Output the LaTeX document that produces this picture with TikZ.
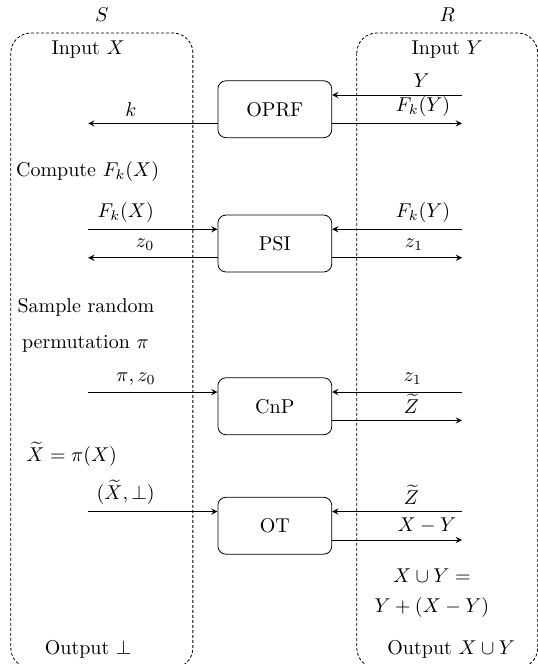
\documentclass[tikz,border=0pt]{standalone}
\usepackage{amsmath,amssymb}
\usetikzlibrary{arrows}

\begin{document}
\begin{tikzpicture}[>=stealth,
  proto/.style={draw,rounded corners,minimum width=2cm,minimum height=1cm},
  party/.style={draw,dash pattern=on 1.5pt off 1pt,rounded corners=10pt}]
  \useasboundingbox (0,0) rectangle (9.44,-11.67);

  %parties
  \draw[party] (0.19,-0.58) rectangle (3.39,-11.74);
  \draw[party] (6.27,-0.58) rectangle (9.45,-11.74);
  \node (s) at (1.79,-0.26) {$S$};
  \node (r) at (7.86,-0.26) {$R$};
  \node (inx) at (1.55,-0.88) {Input $X$};
  \node (iny) at (7.86,-0.88) {Input $Y$};

  %protocols
  \node[proto] (oprf) at (4.83,-1.92) {OPRF};
  \node[proto] (psi) at (4.83,-4.28) {PSI};
  \node[proto] (cnp) at (4.83,-7.14) {CnP};
  \node[proto] (ot) at (4.83,-9.24) {OT};

  %free ends
  \coordinate (oprf-k) at (1.55,-2.17);
  \coordinate (oprf-y) at (8.12,-1.67);
  \coordinate (oprf-fy) at (8.12,-2.17);
  \coordinate (psi-fx) at (1.55,-4.03);
  \coordinate (psi-z0) at (1.55,-4.53);
  \coordinate (psi-fy) at (8.12,-4.03);
  \coordinate (psi-z1) at (8.12,-4.53);
  \coordinate (cnp-pi) at (1.55,-6.89);
  \coordinate (cnp-z1) at (8.12,-6.89);
  \coordinate (cnp-z) at (8.12,-7.39);
  \coordinate (ot-x) at (1.55,-8.99);
  \coordinate (ot-z) at (8.12,-8.99);
  \coordinate (ot-xy) at (8.12,-9.49);

  %OPRF
  \draw[->] (oprf.west |- oprf-k) -- node[above,pos=0.67]{$k$} (oprf-k);
  \draw[<-] (oprf.east |- oprf-y) -- node[above,pos=0.69]{$Y$} (oprf-y);
  \draw[->] (oprf.east |- oprf-fy) -- node[above,pos=0.7]{$F_k(Y)$} (oprf-fy);
  \node (comp) at (1.54,-3.02) {Compute $F_k(X)$};

  %PSI
  \draw[<-] (psi.west |- psi-fx) -- node[above,pos=0.71]{$F_k(X)$} (psi-fx);
  \draw[->] (psi.west |- psi-z0) -- node[above,pos=0.56]{$z_0$} (psi-z0);
  \draw[<-] (psi.east |- psi-fy) -- node[above,pos=0.7]{$F_k(Y)$} (psi-fy);
  \draw[->] (psi.east |- psi-z1) -- node[above,pos=0.63]{$z_1$} (psi-z1);
  \node (samp) at (1.51,-5.40) {Sample random};
  \node (perm) at (1.50,-6.05) {permutation $\pi$};

  %CnP
  \draw[<-] (cnp.west |- cnp-pi) -- node[above,pos=0.63]{$\pi, z_0$} (cnp-pi);
  \draw[<-] (cnp.east |- cnp-z1) -- node[above,pos=0.62]{$z_1$} (cnp-z1);
  \draw[->] (cnp.east |- cnp-z) -- node[above,pos=0.61]{$\widetilde{Z}$} (cnp-z);
  \node (xt) at (1.26,-7.98) {$\widetilde{X} = \pi(X)$};

  %OT
  \draw[<-] (ot.west |- ot-x) -- node[above,pos=0.71]{$(\widetilde{X}, \bot)$} (ot-x);
  \draw[<-] (ot.east |- ot-z) -- node[above,pos=0.61]{$\widetilde{Z}$} (ot-z);
  \draw[->] (ot.east |- ot-xy) -- node[above,pos=0.73]{$X - Y$} (ot-xy);
  \node (un1) at (7.59,-10.11) {$X \cup Y =$};
  \node (un2) at (7.59,-10.67) {$Y + (X - Y)$};

  %outputs
  \node (outs) at (1.55,-11.42) {Output $\bot$};
  \node (outr) at (7.93,-11.42) {Output $X \cup Y$};
\end{tikzpicture}
\end{document}
